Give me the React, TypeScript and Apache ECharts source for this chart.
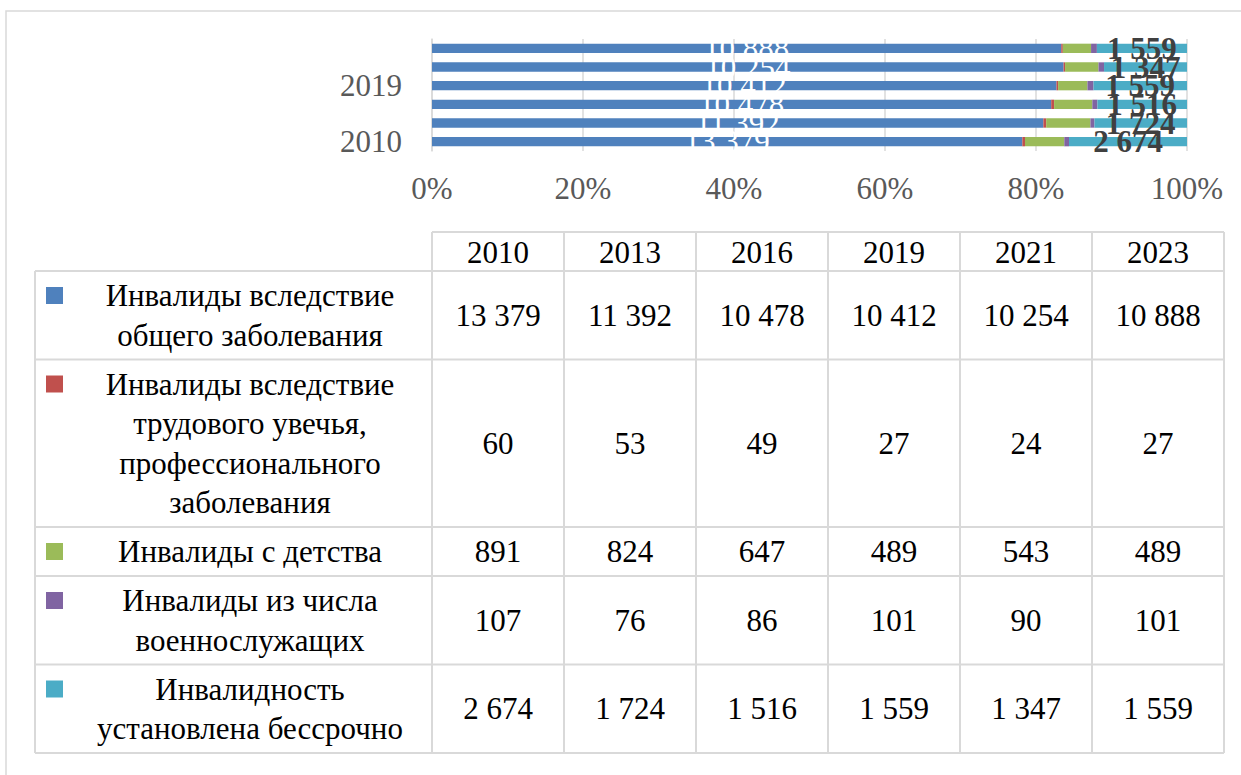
import React, { useEffect, useRef } from "react";
import * as echarts from "echarts";

const categories = ["2010", "2013", "2016", "2019", "2021", "2023"];
const seriesNames = [
  "Инвалиды вследствие общего заболевания",
  "Инвалиды вследствие трудового увечья, профессионального заболевания",
  "Инвалиды с детства",
  "Инвалиды из числа военнослужащих",
  "Инвалидность установлена бессрочно",
];
const legendLines = [
  ["Инвалиды вследствие", "общего заболевания"],
  ["Инвалиды вследствие", "трудового увечья,", "профессионального", "заболевания"],
  ["Инвалиды с детства"],
  ["Инвалиды из числа", "военнослужащих"],
  ["Инвалидность", "установлена бессрочно"],
];
const generalIllness = [13379, 11392, 10478, 10412, 10254, 10888];
const workInjury = [60, 53, 49, 27, 24, 27];
const sinceChildhood = [891, 824, 647, 489, 543, 489];
const militaryService = [107, 76, 86, 101, 90, 101];
const permanentStatus = [2674, 1724, 1516, 1559, 1347, 1559];
const percentTicks = [0, 20, 40, 60, 80, 100];

const seriesValues = [generalIllness, workInjury, sinceChildhood, militaryService, permanentStatus];
const colors = ["#4F81BD", "#C0504D", "#9BBB59", "#8064A2", "#4BACC6"];

const FONT = "'Liberation Serif', 'Times New Roman', serif";
const FS = 31;

const fmt = (v: number) => String(v).replace(/\B(?=(\d{3})+(?!\d))/g, " ");

export default function App() {
  const ref = useRef<HTMLDivElement>(null);
  useEffect(() => {
    if (!ref.current) return;
    const chart = echarts.init(ref.current, undefined, { renderer: "svg" });
    const totals = categories.map((_, i) => seriesValues.reduce((s, arr) => s + arr[i], 0));

    const series = seriesValues.map((arr, si) => ({
      name: seriesNames[si],
      type: "bar",
      stack: "total",
      barCategoryGap: "50%",
      itemStyle: { color: colors[si] },
      data: arr.map((v, i) => (v / totals[i]) * 100),
      label:
        si === 0 || si === 4
          ? {
              show: true,
              position: "inside",
              formatter: (p: any) => fmt(arr[p.dataIndex]),
              color: si === 0 ? "#ffffff" : "#404040",
              fontFamily: FONT,
              fontSize: FS,
              fontWeight: si === 4 ? "bold" : "normal",
            }
          : { show: false },
    }));

    // Data table drawn with graphic elements
    const gridLine = "#d9d9d9";
    const colLeft = 432;
    const colW = 132;
    const tableRight = colLeft + colW * categories.length;
    const legendLeft = 35;
    const headerTop = 232;
    const headerBottom = 271;
    const lineH = 39.5;
    const pad = 9.5;
    const rowTops: number[] = [];
    const rowHeights: number[] = [];
    let y = headerBottom;
    legendLines.forEach((lines) => {
      rowTops.push(y);
      const h = pad + lineH * lines.length;
      rowHeights.push(h);
      y += h;
    });
    const tableBottom = y;

    const g: any[] = [];
    // outer chart border
    g.push({
      type: "rect",
      shape: { x: 6, y: 11, width: 1400, height: 1000 },
      style: { fill: "none", stroke: "#d9d9d9", lineWidth: 1.5 },
      silent: true,
    });
    const hLine = (x1: number, x2: number, yy: number) =>
      g.push({ type: "line", shape: { x1, y1: yy, x2, y2: yy }, style: { stroke: gridLine, lineWidth: 2 }, silent: true });
    const vLine = (xx: number, y1: number, y2: number) =>
      g.push({ type: "line", shape: { x1: xx, y1, x2: xx, y2 }, style: { stroke: gridLine, lineWidth: 2 }, silent: true });

    hLine(colLeft, tableRight, headerTop);
    hLine(legendLeft, tableRight, headerBottom);
    rowTops.forEach((t, i) => hLine(legendLeft, tableRight, t + rowHeights[i]));
    vLine(legendLeft, headerBottom, tableBottom);
    for (let c = 0; c <= categories.length; c++) vLine(colLeft + c * colW, headerTop, tableBottom);

    const txt = (text: string, x: number, yy: number) =>
      g.push({
        type: "text",
        x,
        y: yy,
        style: {
          text,
          fill: "#000000",
          fontFamily: FONT,
          fontSize: FS,
          align: "center",
          verticalAlign: "middle",
        },
        silent: true,
      });

    categories.forEach((c, ci) => txt(c, colLeft + colW * ci + colW / 2, (headerTop + headerBottom) / 2 + 1));

    legendLines.forEach((lines, ri) => {
      const top = rowTops[ri];
      const h = rowHeights[ri];
      const center = top + h / 2;
      const firstY = center - ((lines.length - 1) * lineH) / 2;
      g.push({
        type: "rect",
        shape: { x: 46, y: firstY - 8.5, width: 17, height: 17 },
        style: { fill: colors[ri] },
        silent: true,
      });
      lines.forEach((ln, li) => txt(ln, 250, firstY + li * lineH));
      seriesValues[ri].forEach((v, ci) => txt(fmt(v), colLeft + colW * ci + colW / 2, center));
    });

    chart.setOption({
      animation: false,
      backgroundColor: "#ffffff",
      grid: { left: 432, right: 54, top: 39, height: 112, containLabel: false, outerBoundsMode: "none" },
      xAxis: {
        type: "value",
        min: 0,
        max: 100,
        interval: 20,
        axisLine: { show: false },
        axisTick: { show: false },
        splitLine: { show: true, lineStyle: { color: "#d9d9d9", width: 1.5 } },
        axisLabel: {
          formatter: (v: number) => (percentTicks.includes(v) ? `${v}%` : ""),
          color: "#595959",
          fontFamily: FONT,
          fontSize: FS,
          margin: 22,
        },
      },
      yAxis: {
        type: "category",
        data: categories,
        axisTick: { show: false },
        axisLine: { show: true, lineStyle: { color: "#d9d9d9", width: 1.5 } },
        axisLabel: {
          interval: 2,
          color: "#595959",
          fontFamily: FONT,
          fontSize: FS,
          margin: 30,
        },
      },
      series,
      graphic: g,
    });
    return () => chart.dispose();
  }, []);
  return (
    <div
      ref={ref}
      style={{ position: "absolute", left: 0, top: 0, width: 1241, height: 775, background: "#fff" }}
    />
  );
}
